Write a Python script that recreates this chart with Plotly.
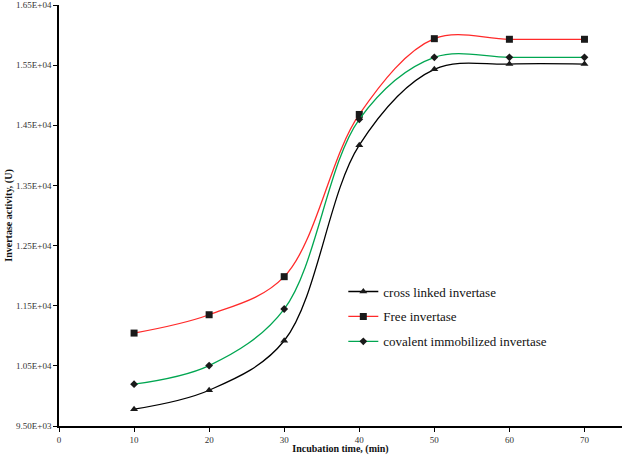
import plotly.graph_objects as go

time_min = [10, 20, 30, 40, 50, 60, 70]
cross_linked = [9780, 10095, 10917, 14170, 15430, 15517, 15517]
free_inv = [11045, 11350, 11983, 14680, 15940, 15930, 15930]
covalent = [10195, 10505, 11445, 14600, 15630, 15630, 15630]

y_tickvals = [9500, 10500, 11500, 12500, 13500, 14500, 15500, 16500]
y_ticktext = ["9.50E+03", "1.05E+04", "1.15E+04", "1.25E+04", "1.35E+04", "1.45E+04", "1.55E+04", "1.65E+04"]
x_tickvals = [0, 10, 20, 30, 40, 50, 60, 70]

font_family = "Liberation Serif, Times New Roman, serif"

fig = go.Figure()
series = [
    ("cross linked invertase", cross_linked, "#000000", "triangle-up", 7),
    ("Free invertase", free_inv, "#ff2a2a", "square", 7),
    ("covalent immobilized invertase", covalent, "#00a651", "diamond", 6),
]
for i, (name, ys, col, sym, sz) in enumerate(series):
    fig.add_trace(go.Scatter(
        x=time_min, y=ys, name=name, mode="lines+markers", legendgroup=f"g{i}",
        line=dict(color=col, width=1.3, shape="spline", smoothing=1.0),
        marker=dict(symbol=sym, color="#1a1a1a", size=sz),
    ))

fig.update_layout(
    width=626, height=455,
    margin=dict(l=59, r=4, t=5, b=29),
    paper_bgcolor="white", plot_bgcolor="white",
    font=dict(family=font_family, size=9, color="#333333"),
    showlegend=True,
    legend=dict(x=0.505, y=0.355, xanchor="left", yanchor="top",
                bgcolor="rgba(0,0,0,0)", font=dict(size=13, color="#111111"),
                tracegroupgap=5, itemwidth=30),
    xaxis=dict(range=[0, 75], tickvals=x_tickvals, showgrid=False, zeroline=False,
               showline=True, linecolor="black", linewidth=1.5, automargin=False,
               ticks="outside", ticklen=4, tickcolor="black",
               title=dict(text="<b>Incubation time, (min)</b>", font=dict(size=10, color="#111111"), standoff=0)),
    yaxis=dict(range=[9500, 16500], tickvals=y_tickvals, ticktext=y_ticktext,
               showgrid=False, zeroline=False, automargin=False,
               showline=True, linecolor="black", linewidth=1.5,
               ticks="outside", ticklen=4, tickcolor="black",
               title=dict(text="<b>Invertase activity, (U)</b>", font=dict(size=10, color="#111111"), standoff=2)),
)

fig.write_html("out.html", config={"displayModeBar": False},
               post_script="document.body.style.margin='0';document.body.style.overflow='hidden';")
